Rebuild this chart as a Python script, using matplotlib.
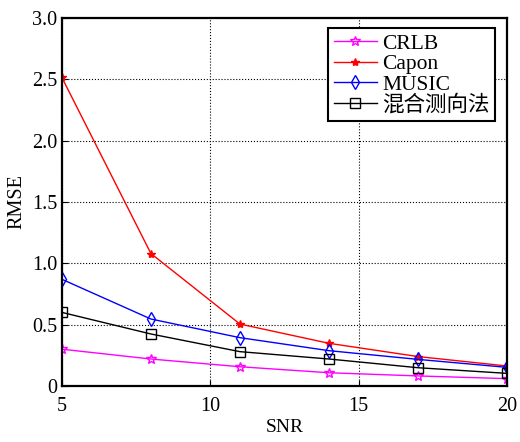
import numpy as np
import matplotlib.pyplot as plt

plt.rcParams['font.family'] = ['Liberation Serif', 'Noto Sans CJK SC']

snr = [5, 8, 11, 14, 17, 20]
rmse_crlb = [0.30, 0.22, 0.157, 0.108, 0.082, 0.06]
rmse_capon = [2.515, 1.08, 0.505, 0.348, 0.24, 0.163]
rmse_music = [0.87, 0.546, 0.394, 0.288, 0.217, 0.152]
rmse_mixed = [0.60, 0.424, 0.28, 0.22, 0.149, 0.103]

fig = plt.figure(figsize=(5.2, 4.42), dpi=100)
ax = fig.add_axes([0.119, 0.1267, 0.856, 0.8326])

ax.plot(snr, rmse_crlb, color='magenta', marker='*', mfc='none', ms=7, lw=1, label='CRLB')
ax.plot(snr, rmse_capon, color='red', marker='*', ms=6, lw=1, label='Capon')
ax.plot(snr, rmse_music, color='blue', marker='d', mfc='none', ms=7, lw=1, label='MUSIC')
ax.plot(snr, rmse_mixed, color='black', marker='s', mfc='none', ms=7, lw=1, label='混合测向法')

ax.set_xlim(5, 20)
ax.set_ylim(0, 3.0)
ax.set_xticks([5, 10, 15, 20])
ax.set_yticks(np.arange(0, 3.01, 0.5))
ax.set_yticklabels(['0', '0.5', '1.0', '1.5', '2.0', '2.5', '3.0'])
ax.grid(True, color='black', linestyle=':', linewidth=0.8)
ax.tick_params(direction='in', labelsize=14.5, length=4)
ax.tick_params(axis='x', pad=8)
for s in ax.spines.values():
    s.set_linewidth(1.6)

ax.set_xlabel('SNR', fontsize=14, labelpad=2)
ax.set_ylabel('RMSE', fontsize=14.5)

leg = ax.legend(loc='upper right', bbox_to_anchor=(0.973, 0.972), fontsize=15.5,
                fancybox=False, framealpha=1, edgecolor='black',
                handlelength=2.0, borderpad=0.25, labelspacing=0.02, handletextpad=0.25,
                borderaxespad=0)
leg.get_frame().set_linewidth(1.5)

fig.savefig('out.png', dpi=100)
